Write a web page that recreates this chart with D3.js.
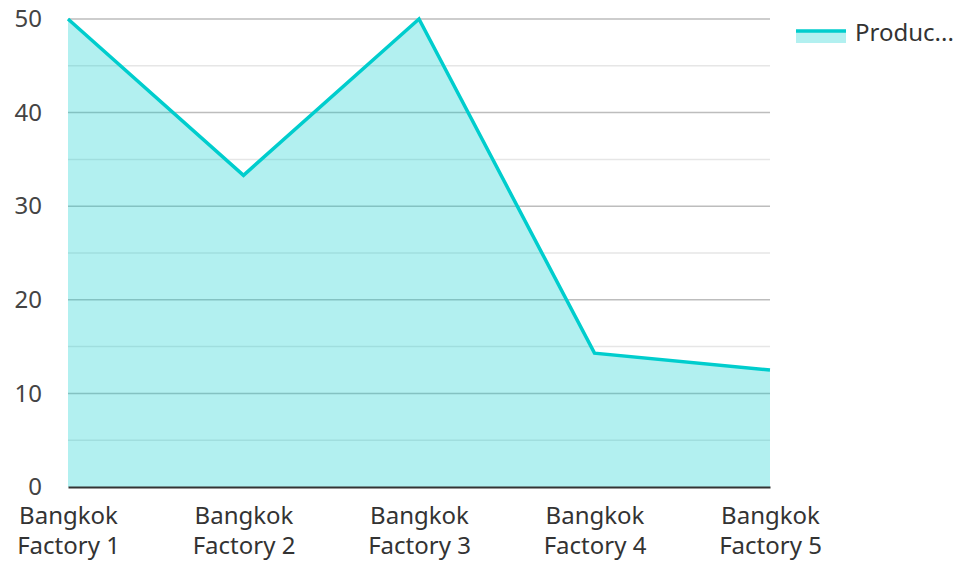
<!DOCTYPE html>
<html>
<head>
<meta charset="utf-8">
<script src="https://cdn.jsdelivr.net/npm/d3@7"></script>
<style>
  body { margin: 0; background: #fff; }
  text { font-family: "Noto Sans", "Open Sans", sans-serif; }
</style>
</head>
<body>
<svg id="chart" width="957" height="561"></svg>
<script>
const categories = ["Bangkok Factory 1", "Bangkok Factory 2", "Bangkok Factory 3", "Bangkok Factory 4", "Bangkok Factory 5"];
const production = [50, 33.3, 50, 14.3, 12.5];
const seriesName = "Produc...";
const yTicks = [0, 10, 20, 30, 40, 50];
const yMinorTicks = [5, 15, 25, 35, 45];

const svg = d3.select("#chart");
const margin = { left: 68, right: 187, top: 19, bottom: 74 };
const width = +svg.attr("width"), height = +svg.attr("height");
const x0 = margin.left, x1 = width - margin.right;
const y0 = height - margin.bottom, y1 = margin.top;

const x = d3.scalePoint().domain(categories).range([x0, x1]);
const y = d3.scaleLinear().domain([0, 50]).range([y0, y1]);

const lineColor = "#00cdcd";
const fontSize = 24;

// minor grid
svg.append("g").selectAll("line").data(yMinorTicks).enter().append("line")
  .attr("x1", x0).attr("x2", x1)
  .attr("y1", d => y(d)).attr("y2", d => y(d))
  .attr("stroke", "#e6e6e6").attr("stroke-width", 1.5);

// major grid
svg.append("g").selectAll("line").data(yTicks.filter(d => d > 0)).enter().append("line")
  .attr("x1", x0).attr("x2", x1)
  .attr("y1", d => y(d)).attr("y2", d => y(d))
  .attr("stroke", "#bdbdbd").attr("stroke-width", 1.5);

// area
const area = d3.area()
  .x((d, i) => x(categories[i]))
  .y0(y(0))
  .y1(d => y(d));
svg.append("path").datum(production)
  .attr("d", area)
  .attr("fill", lineColor)
  .attr("fill-opacity", 0.3);

const line = d3.line()
  .x((d, i) => x(categories[i]))
  .y(d => y(d));
svg.append("path").datum(production)
  .attr("d", line)
  .attr("fill", "none")
  .attr("stroke", lineColor)
  .attr("stroke-width", 3.5)
  .attr("stroke-linejoin", "miter");

// y axis labels
const yAxis = svg.append("g")
  .attr("transform", `translate(${x0},0)`)
  .call(d3.axisLeft(y).tickValues(yTicks).tickSize(0).tickPadding(26));
yAxis.select(".domain").remove();
yAxis.selectAll("text")
  .attr("font-size", fontSize).attr("fill", "#444")
  .style("font-family", '"Noto Sans", "Open Sans", sans-serif');

// x axis
const xAxis = svg.append("g")
  .attr("transform", `translate(0,${y0})`)
  .call(d3.axisBottom(x).tickSize(0).tickPadding(0));
xAxis.select(".domain").attr("stroke", "#333").attr("stroke-width", 2);
xAxis.selectAll("text").remove();
xAxis.selectAll(".tick").each(function (d) {
  const words = d.split(" ");
  const t = d3.select(this).append("text")
    .attr("text-anchor", "middle")
    .attr("font-size", fontSize)
    .attr("fill", "#333")
    .style("font-family", '"Noto Sans", "Open Sans", sans-serif');
  t.append("tspan").attr("x", 0).attr("y", 37).text(words[0]);
  t.append("tspan").attr("x", 0).attr("y", 67).text(words.slice(1).join(" "));
});

// legend
const legend = svg.append("g").attr("transform", "translate(796,28)");
legend.append("rect")
  .attr("x", 0).attr("y", 2).attr("width", 50).attr("height", 13)
  .attr("fill", lineColor).attr("fill-opacity", 0.3);
legend.append("line")
  .attr("x1", 0).attr("x2", 50).attr("y1", 3).attr("y2", 3)
  .attr("stroke", lineColor).attr("stroke-width", 3.5);
legend.append("text")
  .attr("x", 59).attr("y", 13)
  .attr("font-size", fontSize).attr("fill", "#333")
  .text(seriesName);
</script>
</body>
</html>
